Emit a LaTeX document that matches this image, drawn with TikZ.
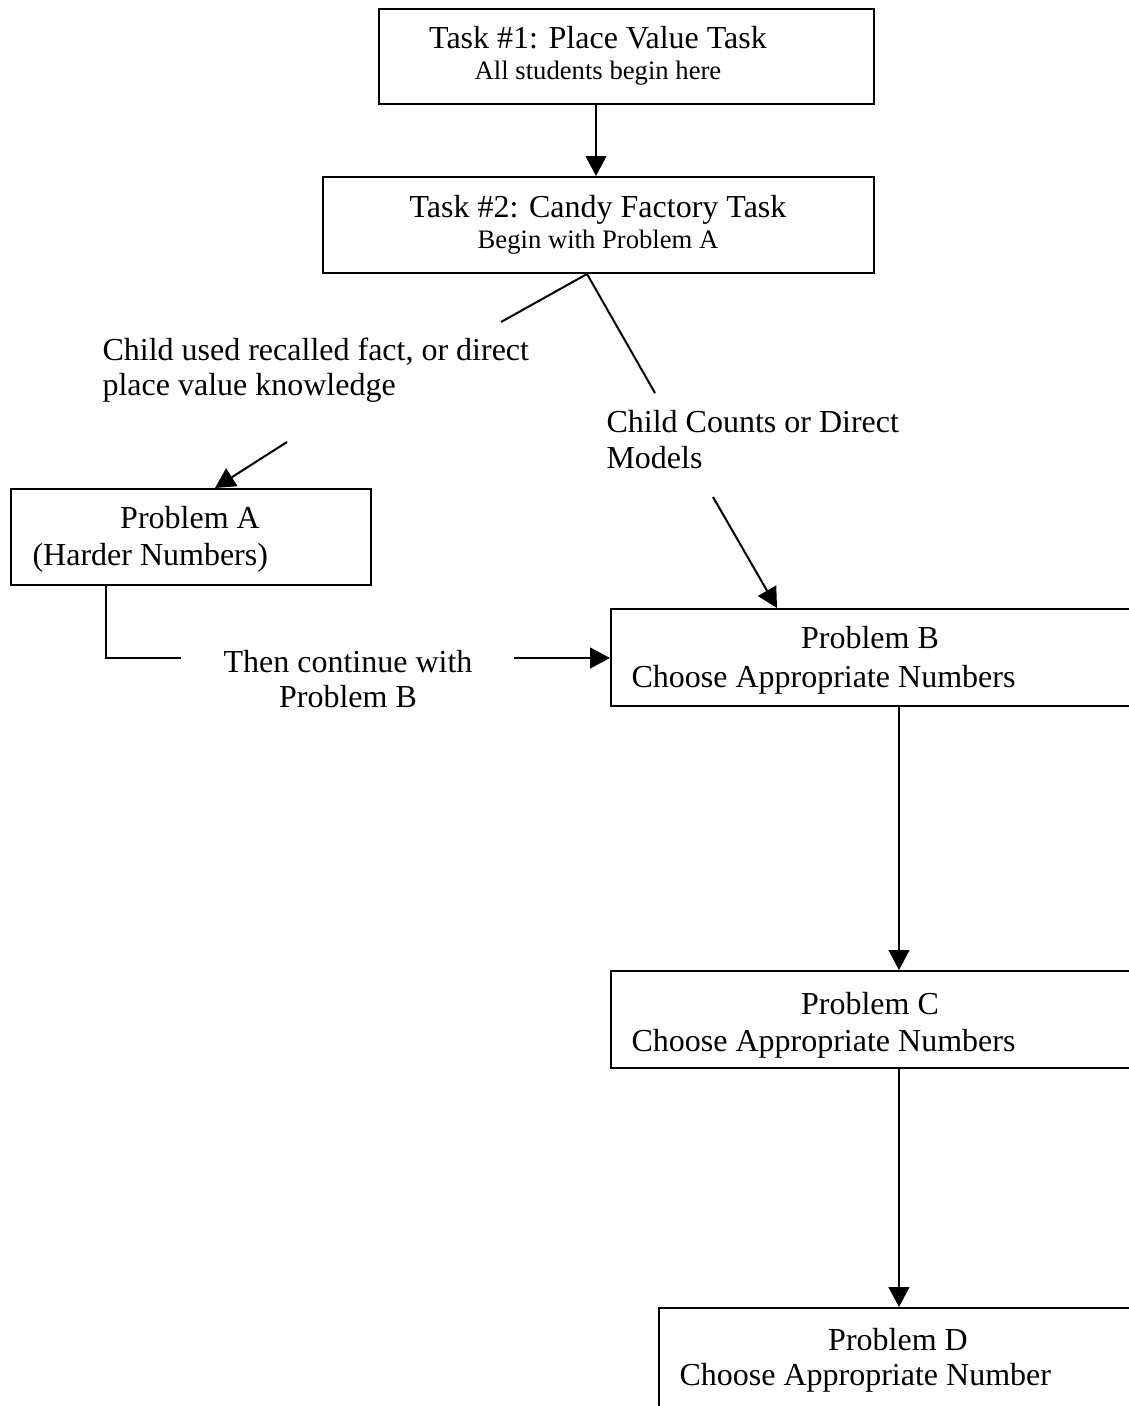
\documentclass[tikz,border=0pt]{standalone}
\usepackage{fontspec}
\setmainfont{Liberation Serif}
\usetikzlibrary{arrows.meta,fit}
\begin{document}
\begin{tikzpicture}[x=0.375pt,y=-0.375pt,
  box/.style={draw, line width=0.75pt, inner sep=0pt},
  txt/.style={inner sep=0pt, font=\fontsize{12}{13.5}\selectfont},
  small/.style={inner sep=0pt, font=\fontsize{10}{12}\selectfont},
  conn/.style={line width=0.75pt},
  arr/.style={line width=0.75pt, -{Triangle[length=7.5pt,width=7.8pt]}}]
\path[use as bounding box] (0,0) rectangle (1129,1406);
\clip (0,0) rectangle (1129,1406);
% boxes
\node[box, fit={(379,9)(874,104)}] (b1) {};
\node[box, fit={(323,177)(874,273)}] (b2) {};
\node[box, fit={(11,489)(371,585)}] (pa) {};
\node[box, fit={(611,609)(1140,706)}] (pb) {};
\node[box, fit={(611,971)(1140,1068)}] (pc) {};
\node[box, fit={(659,1308)(1140,1430)}] (pd) {};
% texts in boxes
\node[txt, anchor=base] (t1a) at (598,48) {Task \#1: Place Value Task};
\node[small, anchor=base] (t1b) at (598,79) {All students begin here};
\node[txt, anchor=base] (t2a) at (598,217) {Task \#2: Candy Factory Task};
\node[small, anchor=base] (t2b) at (598,248) {Begin with Problem A};
\node[txt, anchor=base] (tpa1) at (190,528) {Problem A};
\node[txt, anchor=base west] (tpa2) at (32,565) {(Harder Numbers)};
\node[txt, anchor=base] (tpb1) at (870,648) {Problem B};
\node[txt, anchor=base west] (tpb2) at (631,687) {Choose Appropriate Numbers};
\node[txt, anchor=base] (tpc1) at (870,1014) {Problem C};
\node[txt, anchor=base west] (tpc2) at (631,1051) {Choose Appropriate Numbers};
\node[txt, anchor=base] (tpd1) at (898,1350) {Problem D};
\node[txt, anchor=base west] (tpd2) at (679,1385) {Choose Appropriate Number};
% free labels
\node[txt, anchor=base west] (l1a) at (102,360) {Child used recalled fact, or direct};
\node[txt, anchor=base west] (l1b) at (102,395) {place value knowledge};
\node[txt, anchor=base west] (l2a) at (606,432) {Child Counts or Direct};
\node[txt, anchor=base west] (l2b) at (606,468) {Models};
\node[txt, anchor=base] (l3a) at (348,672) {Then continue with};
\node[txt, anchor=base] (l3b) at (348,707) {Problem B};
% helper coordinates
\coordinate (x596) at (596,0);
\coordinate (x587) at (587,0);
\coordinate (x215) at (215,0);
\coordinate (x777) at (777,0);
\coordinate (x106) at (106,0);
\coordinate (x899) at (899,0);
\coordinate (y658) at (0,658);
\coordinate (lend) at (501,322);
\coordinate (rend) at (655,393);
\coordinate (lstart) at (287,442);
\coordinate (rstart) at (713,497);
\coordinate (h1) at (181,658);
\coordinate (h2) at (514,658);
% connectors
\draw[arr] (b1.south -| x596) -- (b2.north -| x596);
\draw[conn] (lend) -- (b2.south -| x587) -- (rend);
\draw[arr] (lstart) -- (pa.north -| x215);
\draw[arr] (rstart) -- (pb.north -| x777);
\draw[conn] (pa.south -| x106) -- (x106 |- y658) -- (h1);
\draw[arr] (h2) -- (pb.west |- y658);
\draw[arr] (pb.south -| x899) -- (pc.north -| x899);
\draw[arr] (pc.south -| x899) -- (pd.north -| x899);
\end{tikzpicture}
\end{document}
